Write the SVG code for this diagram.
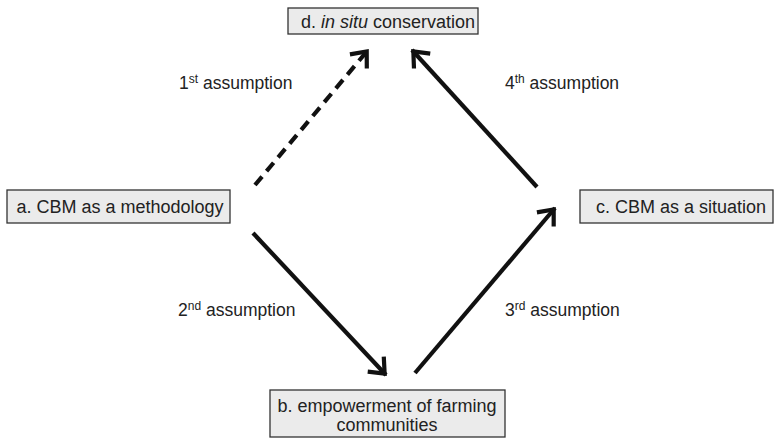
<svg xmlns="http://www.w3.org/2000/svg" width="775" height="438" viewBox="0 0 775 438">
<style>
.box{fill:#ebebeb;stroke:#333;stroke-width:1.3}
.t{font-family:"Liberation Sans",Arial,sans-serif;font-size:18px;fill:#222;text-anchor:middle}
.lbl{font-family:"Liberation Sans",Arial,sans-serif;font-size:17.5px;fill:#222}
.sup{font-size:12px}
.c{fill:none;stroke:#111;stroke-width:4.2}
</style>
<defs>
<marker id="ah" markerUnits="userSpaceOnUse" markerWidth="40" markerHeight="40" viewBox="-20 -20 40 40" refX="2" refY="0" orient="auto">
<path d="M-13,-11 L0,0 L-13,11" fill="none" stroke="#111" stroke-width="4.2" stroke-linejoin="miter"/>
</marker>
</defs>
<g id="connectors">
<line class="c" x1="255" y1="185" x2="368" y2="50" stroke-dasharray="11,7" marker-end="url(#ah)"/>
<line class="c" x1="537" y1="187" x2="412" y2="50" marker-end="url(#ah)"/>
<line class="c" x1="253" y1="233" x2="386" y2="375" marker-end="url(#ah)"/>
<line class="c" x1="415" y1="373" x2="555" y2="208" marker-end="url(#ah)"/>
<text class="lbl" x="179" y="89">1<tspan class="sup" dy="-6">st</tspan><tspan dy="6"> assumption</tspan></text>
<text class="lbl" x="505" y="89">4<tspan class="sup" dy="-6">th</tspan><tspan dy="6"> assumption</tspan></text>
<text class="lbl" x="178" y="316">2<tspan class="sup" dy="-6">nd</tspan><tspan dy="6"> assumption</tspan></text>
<text class="lbl" x="505" y="316">3<tspan class="sup" dy="-6">rd</tspan><tspan dy="6"> assumption</tspan></text>
</g>
<g id="d">
<rect class="box" x="288" y="8" width="190" height="26"/>
<text class="t" x="388" y="28">d. <tspan font-style="italic">in situ</tspan> conservation</text>
</g>
<g id="a">
<rect class="box" x="7" y="190" width="223" height="33"/>
<text class="t" x="120" y="213">a. CBM as a methodology</text>
</g>
<g id="c">
<rect class="box" x="580" y="190" width="193" height="33"/>
<text class="t" x="681" y="213">c. CBM as a situation</text>
</g>
<g id="b">
<rect class="box" x="270" y="390" width="235" height="47"/>
<text class="t" x="387" y="412">b. empowerment of farming</text>
<text class="t" x="387" y="431">communities</text>
</g>
</svg>
